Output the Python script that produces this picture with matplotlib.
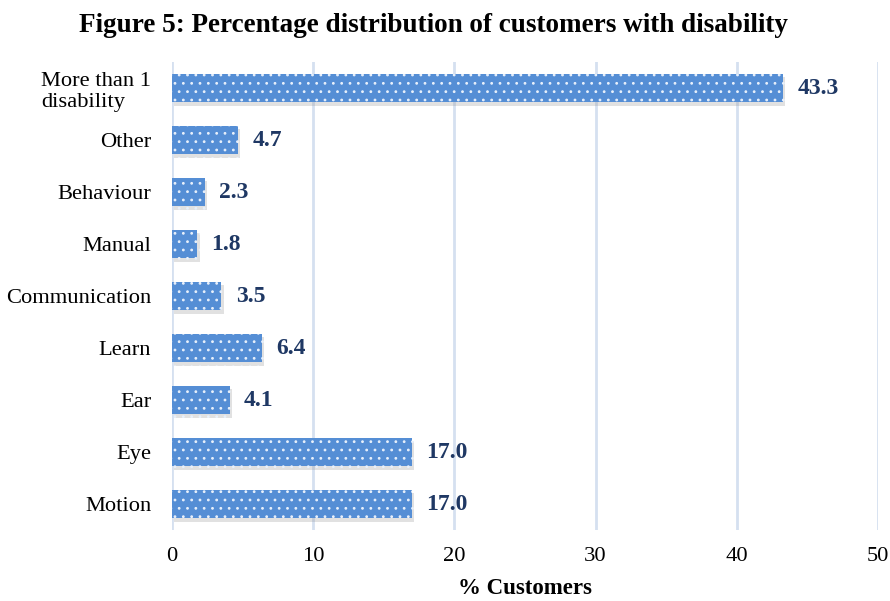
import matplotlib.pyplot as plt
import matplotlib.patheffects as pe

# disability categories, bottom to top
categories = ["Motion", "Eye", "Ear", "Learn", "Communication",
              "Manual", "Behaviour", "Other", "More than 1\ndisability"]
percent = [17.0, 17.0, 4.1, 6.4, 3.5, 1.8, 2.3, 4.7, 43.3]
xticks = [0, 10, 20, 30, 40, 50]

plt.rcParams['font.family'] = ['Liberation Serif', 'DejaVu Serif']
plt.rcParams['hatch.color'] = '#e8f0fb'
plt.rcParams['hatch.linewidth'] = 0.8

fig = plt.figure(figsize=(8.9, 6.01), dpi=100)
ax = fig.add_axes([0.1933, 0.1181, 0.7932, 0.7787])

pos = list(range(len(categories)))
bars = ax.barh(pos, percent, height=0.54, color='#558ED5', hatch='..',
               edgecolor='#e8f0fb', linewidth=0, zorder=3)
for b in bars:
    b.set_path_effects([pe.SimplePatchShadow(offset=(1.5, -2.5), shadow_rgbFace='#8a8a8a', alpha=0.25),
                        pe.Normal()])

for y, v in zip(pos, percent):
    ax.text(v + 1.0, y, f"{v:.1f}", va='center', ha='left', fontsize=17,
            fontweight='bold', color='#1F3864')

ax.set_xlim(0, 50)
ax.set_ylim(-0.5, len(categories) - 0.5)
ax.set_xticks(xticks)
ax.set_yticks(pos)
ax.set_yticklabels(categories, multialignment='left')
ax.tick_params(axis='both', length=0, labelsize=16.2, colors='black')
ax.tick_params(axis='x', pad=12)
ax.tick_params(axis='y', pad=15)

ax.grid(axis='x', color='#D5E0F0', linewidth=2, zorder=0)
ax.set_axisbelow(True)
for s in ax.spines.values():
    s.set_visible(False)

ax.set_xlabel("% Customers", fontsize=16.5, fontweight='bold', labelpad=9)
fig.suptitle("Figure 5: Percentage distribution of customers with disability",
             fontsize=19.5, fontweight='bold', x=0.487, y=0.978)

fig.savefig("out.png", dpi=100)
